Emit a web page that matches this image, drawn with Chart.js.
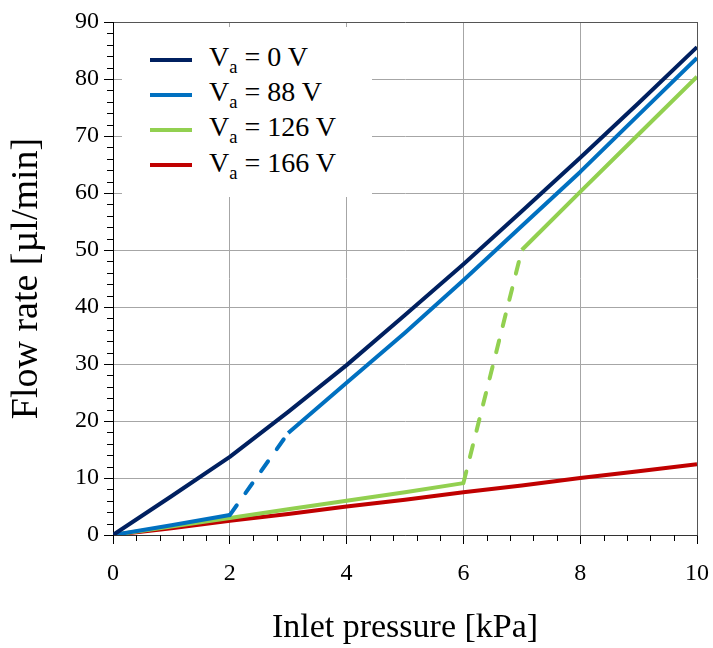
<!DOCTYPE html>
<html lang="en">
<head>
    <meta charset="UTF-8">
    <title>Flow rate vs inlet pressure</title>
    <style>
        body { margin: 0; background: #fff; }
        .wrap { position: relative; width: 713px; height: 648px; }
        .legend {
            position: absolute;
            left: 122px; top: 27px;
            width: 250px; height: 170px;
            background: #fff;
            font-family: "Liberation Serif", "DejaVu Serif", serif;
            font-size: 28px;
            color: #000;
        }
        .legend .row {
            position: absolute;
            left: 0; height: 35px;
            display: flex; align-items: center;
        }
        .legend .swatch {
            display: inline-block;
            width: 42px; height: 4px;
            margin-left: 28px; margin-right: 17px;
        }
        .legend sub { font-size: 0.66em; vertical-align: -0.4em; }
    </style>
</head>
<body>
<div class="wrap">
    <canvas id="flowChart" width="713" height="648"></canvas>
    <div class="legend" id="legend"></div>
</div>

<script src="https://cdn.jsdelivr.net/npm/chart.js"></script>
<script>
    // values
    const pressure = [0, 1, 2, 3, 4, 5, 6, 7, 8, 9, 10];          // kPa
    const flow0V   = [0, 6.8, 13.7, 21.6, 29.8, 38.6, 47.5, 56.8, 66.2, 75.8, 85.6];
    const flow88V  = [0, 1.7, 3.5, 17.9, 26.7, 35.5, 44.7, 54.2, 63.7, 73.7, 83.7];
    const flow126V = [0, 1.5, 3.0, 4.5, 6.0, 7.5, 9.1, 50.0, 60.2, 70.3, 80.4];
    const flow166V = [0, 1.2, 2.5, 3.7, 5.0, 6.2, 7.5, 8.7, 10.0, 11.2, 12.4];
    const dash88V  = [2, 3];   // dashed between these pressures
    const dash126V = [6, 7];

    const seriesLabels = ['0 V', '88 V', '126 V', '166 V'];
    const seriesColors = ['#002060', '#0070C0', '#92D050', '#C00000'];
    const xTicks = [0, 2, 4, 6, 8, 10];
    const yTicks = [0, 10, 20, 30, 40, 50, 60, 70, 80, 90];

    const serif = '"Liberation Serif", "DejaVu Serif", serif';

    function pts(ys) {
        return pressure.map((x, i) => ({ x: x, y: ys[i] }));
    }

    function inRange(ctx, range) {
        return ctx.p0.parsed.x >= range[0] && ctx.p1.parsed.x <= range[1];
    }

    function makeSet(i, ys, dashRange) {
        const ds = {
            label: seriesLabels[i],
            data: pts(ys),
            borderColor: seriesColors[i],
            borderWidth: 4,
            pointRadius: 0,
            tension: 0,
            borderJoinStyle: 'round',
            fill: false
        };
        if (dashRange) {
            ds.segment = {
                borderDash: ctx => inRange(ctx, dashRange) ? [12, 15] : undefined,
                borderCapStyle: ctx => inRange(ctx, dashRange) ? 'round' : 'butt'
            };
        }
        return ds;
    }

    // small ticks between the labelled ones
    const minorTicks = {
        id: 'minorTicks',
        afterDraw(chart) {
            const c = chart.ctx;
            const xs = chart.scales.x, ys = chart.scales.y;
            const a = chart.chartArea;
            c.save();
            c.strokeStyle = '#000';
            c.lineWidth = 1;
            c.beginPath();
            for (let v = 2; v < 90; v += 2) {
                if (v % 10 === 0) continue;
                const py = Math.round(ys.getPixelForValue(v)) + 0.5;
                c.moveTo(a.left - 6, py);
                c.lineTo(a.left, py);
            }
            for (let i = 1; i < 25; i++) {
                if (i % 5 === 0) continue;
                const px = Math.round(xs.getPixelForValue(i * 0.4)) + 0.5;
                c.moveTo(px, a.bottom);
                c.lineTo(px, a.bottom + 6);
            }
            c.stroke();
            c.restore();
        }
    };

    new Chart(document.getElementById('flowChart').getContext('2d'), {
        type: 'line',
        data: {
            datasets: [
                makeSet(0, flow0V),
                makeSet(1, flow88V, dash88V),
                makeSet(2, flow126V, dash126V),
                makeSet(3, flow166V)
            ]
        },
        options: {
            responsive: false,
            animation: false,
            layout: { padding: { top: 22, right: 16, left: 0, bottom: 0 } },
            plugins: {
                legend: { display: false },
                tooltip: { enabled: false }
            },
            scales: {
                x: {
                    type: 'linear',
                    min: 0, max: 10,
                    afterFit: s => { s.height = 113; s.paddingLeft = 0; s.paddingRight = 0; },
                    afterBuildTicks: s => { s.ticks = xTicks.map(v => ({ value: v })); },
                    ticks: {
                        color: '#000',
                        padding: 15,
                        font: { family: serif, size: 24 }
                    },
                    grid: {
                        color: ctx => ctx.tick && ctx.tick.value === 10 ? '#555' : '#a6a6a6',
                        tickColor: '#000',
                        tickLength: 9
                    },
                    border: { color: '#333', width: 1 },
                    title: {
                        display: true,
                        text: 'Inlet pressure [kPa]',
                        color: '#000',
                        font: { family: serif, size: 34 },
                        padding: { top: 0, bottom: 0 }
                    }
                },
                y: {
                    type: 'linear',
                    min: 0, max: 90,
                    afterFit: s => { s.width = 113; s.paddingTop = 0; s.paddingBottom = 0; },
                    afterBuildTicks: s => { s.ticks = yTicks.map(v => ({ value: v })); },
                    ticks: {
                        color: '#000',
                        padding: 5,
                        font: { family: serif, size: 24 }
                    },
                    grid: {
                        color: ctx => ctx.tick && ctx.tick.value === 90 ? '#555' : '#a6a6a6',
                        tickColor: '#000',
                        tickLength: 9
                    },
                    border: { color: '#000', width: 1 },
                    title: {
                        display: true,
                        text: 'Flow rate [µl/min]',
                        color: '#000',
                        font: { family: serif, size: 38 },
                        padding: { top: 4, bottom: 0 }
                    }
                }
            }
        },
        plugins: [minorTicks]
    });

    // legend with subscript, drawn as html over the plot
    const legend = document.getElementById('legend');
    seriesLabels.forEach((lab, i) => {
        const row = document.createElement('div');
        row.className = 'row';
        row.style.top = (15 + i * 35.3) + 'px';
        row.innerHTML = '<span class="swatch" style="background:' + seriesColors[i] + '"></span>' +
            '<span>V<sub>a</sub> = ' + lab + '</span>';
        legend.appendChild(row);
    });
</script>
</body>
</html>
